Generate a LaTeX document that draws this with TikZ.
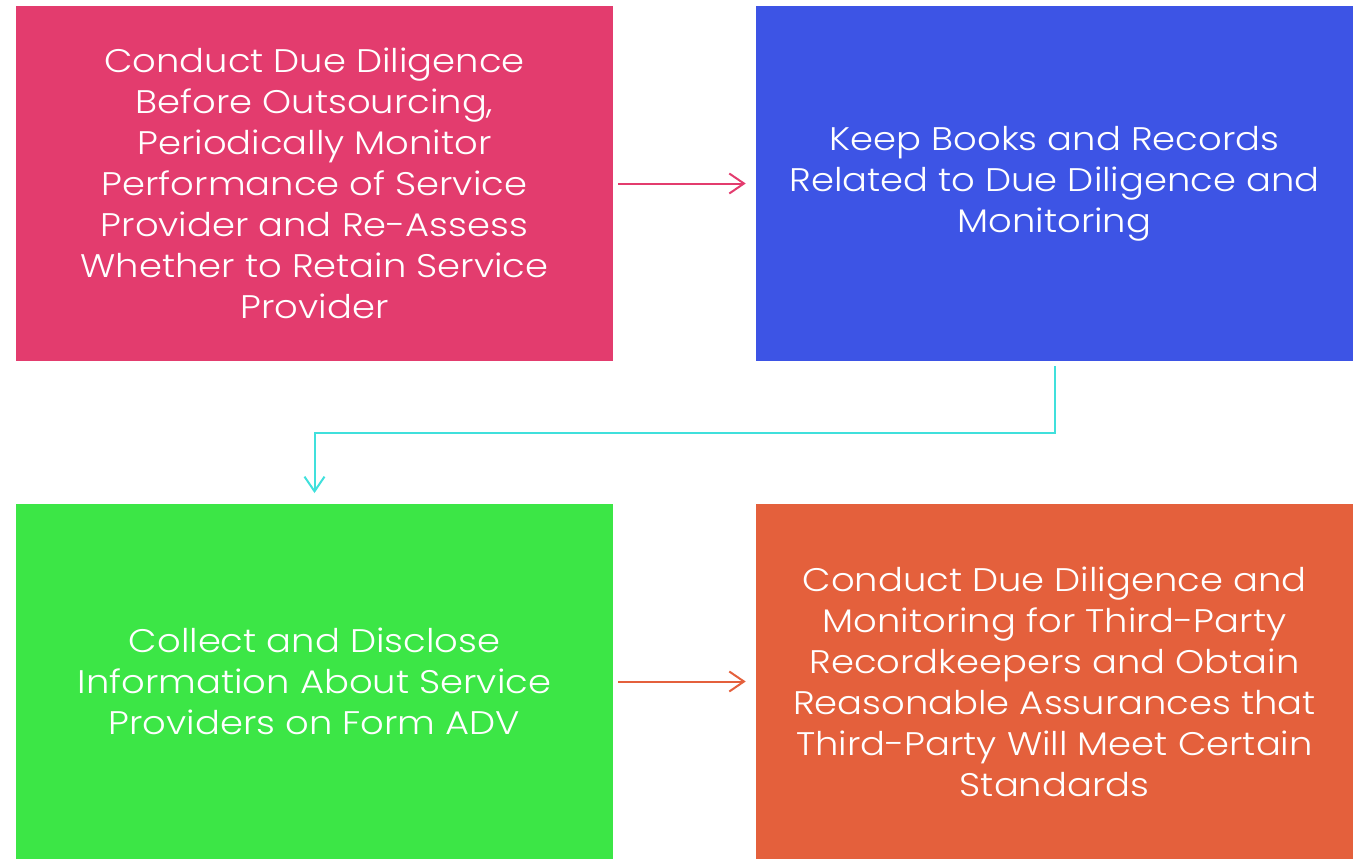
\documentclass[tikz,border=0pt]{standalone}
\usepackage{fontspec}
\setmainfont{Poppins Light}[FakeStretch=1.13]
\usepackage{xcolor}
\usepackage{tikz}
\usetikzlibrary{calc}
\usetikzlibrary{arrows.meta}

\definecolor{boxpink}{RGB}{227,60,110}
\definecolor{boxblue}{RGB}{61,84,229}
\definecolor{boxgreen}{RGB}{60,230,70}
\definecolor{boxorange}{RGB}{228,96,60}
\definecolor{linkcyan}{RGB}{64,224,220}

\begin{document}
\begin{tikzpicture}[x=0.75pt,y=-0.75pt,
    stepbox/.style={rectangle,minimum width=447.75pt,minimum height=266.25pt,
        inner sep=0pt,text=white,align=center,
        font=\fontsize{24.5}{30.75}\selectfont},
    link/.style={line width=1.5pt,-{Straight Barb[length=11pt,width=15pt,line width=1.5pt]}}]

% Page frame
\useasboundingbox (0,0) rectangle (1360,858);

% Four step boxes
\node[stepbox,fill=boxpink] (dd) at (314.5,183.5) {Conduct Due Diligence\\Before Outsourcing,\\Periodically Monitor\\Performance of Service\\Provider and Re-Assess\\Whether to Retain Service\\Provider};
\node[stepbox,fill=boxblue] (books) at (1054.5,183.5) {Keep Books and Records\\Related to Due Diligence and\\Monitoring};
\node[stepbox,fill=boxgreen] (adv) at (314.5,681.5) {Collect and Disclose\\Information About Service\\Providers on Form ADV};
\node[stepbox,fill=boxorange] (third) at (1054.5,681.5) {Conduct Due Diligence and\\Monitoring for Third-Party\\Recordkeepers and Obtain\\Reasonable Assurances that\\Third-Party Will Meet Certain\\Standards};

% Connectors
\draw[link,boxpink,shorten <=3.75pt,shorten >=7.5pt] (dd) -- (books);
\draw[link,linkcyan,shorten <=3.75pt,shorten >=8pt] (books.south) |- ($(books.south)!.5!(adv.north)$) -| (adv.north);
\draw[link,boxorange,shorten <=3.75pt,shorten >=7.5pt] (adv) -- (third);

\end{tikzpicture}
\end{document}
